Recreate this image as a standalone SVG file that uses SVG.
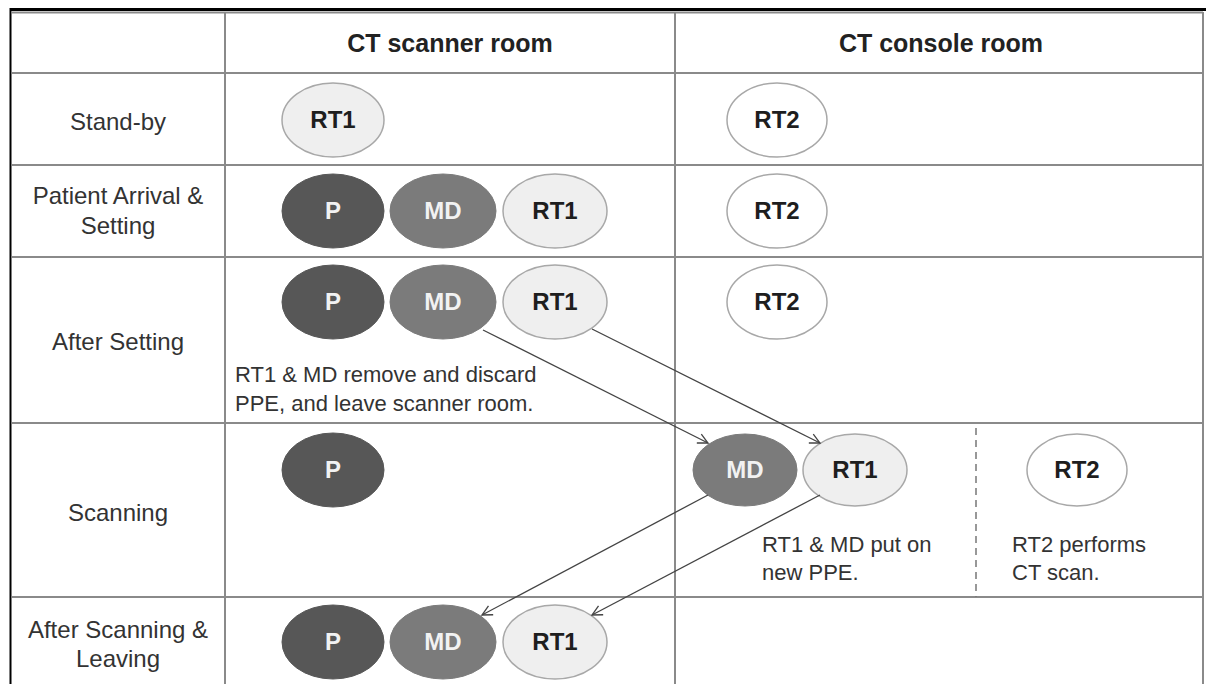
<svg xmlns="http://www.w3.org/2000/svg" width="1206" height="684" viewBox="0 0 1206 684">
<defs>
<style>
.grid{stroke:#8a8a8a;stroke-width:2;fill:none}
.lbl{font-family:"Liberation Sans",Arial,sans-serif;font-size:24px;fill:#333;text-anchor:middle}
.hdr{font-family:"Liberation Sans",Arial,sans-serif;font-size:25px;font-weight:bold;fill:#222;text-anchor:middle}
.note{font-family:"Liberation Sans",Arial,sans-serif;font-size:22px;fill:#333}
.nt{font-family:"Liberation Sans",Arial,sans-serif;font-size:24px;font-weight:bold;text-anchor:middle}
.p ellipse{fill:#575757;stroke:#575757}
.p text{fill:#f2f2f2}
.md ellipse{fill:#7b7b7b;stroke:#7b7b7b}
.md text{fill:#f2f2f2}
.rt1 ellipse{fill:#efefef;stroke:#a8a8a8;stroke-width:1.5}
.rt1 text{fill:#1e1e1e}
.rt2 ellipse{fill:#ffffff;stroke:#a8a8a8;stroke-width:1.5}
.rt2 text{fill:#1e1e1e}
.conn{stroke:#444;stroke-width:1.3;fill:none;marker-end:url(#ah)}
</style>
<marker id="ah" viewBox="0 0 12 12" refX="11" refY="6" markerWidth="12" markerHeight="12" markerUnits="userSpaceOnUse" orient="auto">
<path d="M1,1 L11,6 L1,11" fill="none" stroke="#444" stroke-width="1.3"/>
</marker>
</defs>
<rect width="1206" height="684" fill="#ffffff"/>
<g id="table">
<line x1="10" y1="9.5" x2="1206" y2="9.5" stroke="#000" stroke-width="3"/>
<line x1="10.5" y1="8" x2="10.5" y2="684" stroke="#000" stroke-width="2"/>
<line class="grid" x1="12" y1="12.5" x2="1203" y2="12.5"/>
<line class="grid" x1="1203" y1="12" x2="1203" y2="684"/>
<line class="grid" x1="12" y1="73" x2="1203" y2="73"/>
<line class="grid" x1="12" y1="165" x2="1203" y2="165"/>
<line class="grid" x1="12" y1="257" x2="1203" y2="257"/>
<line class="grid" x1="12" y1="423" x2="1203" y2="423"/>
<line class="grid" x1="12" y1="597" x2="1203" y2="597"/>
<line class="grid" x1="225" y1="12" x2="225" y2="684"/>
<line class="grid" x1="675" y1="12" x2="675" y2="684"/>
<line x1="976" y1="428" x2="976" y2="597" stroke="#777" stroke-width="1.5" stroke-dasharray="7,5"/>
</g>
<g id="headers">
<text class="hdr" x="450" y="52">CT scanner room</text>
<text class="hdr" x="941" y="52">CT console room</text>
</g>
<g id="row-labels">
<text class="lbl" x="118" y="130">Stand-by</text>
<text class="lbl" x="118" y="204">Patient Arrival &amp;</text>
<text class="lbl" x="118" y="234">Setting</text>
<text class="lbl" x="118" y="350">After Setting</text>
<text class="lbl" x="118" y="521">Scanning</text>
<text class="lbl" x="118" y="638">After Scanning &amp;</text>
<text class="lbl" x="118" y="667">Leaving</text>
</g>
<g id="standby-rt1" class="rt1"><ellipse cx="333" cy="120" rx="51" ry="37"/><text class="nt" x="333" y="128">RT1</text></g>
<g id="standby-rt2" class="rt2"><ellipse cx="777" cy="120" rx="50" ry="37"/><text class="nt" x="777" y="128">RT2</text></g>
<g id="arrival-p" class="p"><ellipse cx="333" cy="211" rx="51" ry="37"/><text class="nt" x="333" y="219">P</text></g>
<g id="arrival-md" class="md"><ellipse cx="443" cy="211" rx="53" ry="37"/><text class="nt" x="443" y="219">MD</text></g>
<g id="arrival-rt1" class="rt1"><ellipse cx="555" cy="211" rx="52" ry="37"/><text class="nt" x="555" y="219">RT1</text></g>
<g id="arrival-rt2" class="rt2"><ellipse cx="777" cy="211" rx="50" ry="37"/><text class="nt" x="777" y="219">RT2</text></g>
<g id="setting-p" class="p"><ellipse cx="333" cy="302" rx="51" ry="37"/><text class="nt" x="333" y="310">P</text></g>
<g id="setting-md" class="md"><ellipse cx="443" cy="302" rx="53" ry="37"/><text class="nt" x="443" y="310">MD</text></g>
<g id="setting-rt1" class="rt1"><ellipse cx="555" cy="302" rx="52" ry="37"/><text class="nt" x="555" y="310">RT1</text></g>
<g id="setting-rt2" class="rt2"><ellipse cx="777" cy="302" rx="50" ry="37"/><text class="nt" x="777" y="310">RT2</text></g>
<g id="setting-note"><text class="note" x="235" y="382">RT1 &amp; MD remove and discard</text><text class="note" x="235" y="411">PPE, and leave scanner room.</text></g>
<g id="scan-p" class="p"><ellipse cx="333" cy="470" rx="51" ry="37"/><text class="nt" x="333" y="478">P</text></g>
<g id="scan-md" class="md"><ellipse cx="745" cy="470" rx="52" ry="36"/><text class="nt" x="745" y="478">MD</text></g>
<g id="scan-rt1" class="rt1"><ellipse cx="855" cy="470" rx="52" ry="36"/><text class="nt" x="855" y="478">RT1</text></g>
<g id="scan-rt2" class="rt2"><ellipse cx="1077" cy="470" rx="50" ry="36"/><text class="nt" x="1077" y="478">RT2</text></g>
<g id="scan-note1"><text class="note" x="762" y="552">RT1 &amp; MD put on</text><text class="note" x="762" y="580">new PPE.</text></g>
<g id="scan-note2"><text class="note" x="1012" y="552">RT2 performs</text><text class="note" x="1012" y="580">CT scan.</text></g>
<g id="leave-p" class="p"><ellipse cx="333" cy="642" rx="51" ry="37"/><text class="nt" x="333" y="650">P</text></g>
<g id="leave-md" class="md"><ellipse cx="443" cy="642" rx="53" ry="37"/><text class="nt" x="443" y="650">MD</text></g>
<g id="leave-rt1" class="rt1"><ellipse cx="555" cy="642" rx="52" ry="37"/><text class="nt" x="555" y="650">RT1</text></g>
<g id="connectors">
<line class="conn" x1="483" y1="330" x2="708" y2="443"/>
<line class="conn" x1="592" y1="329" x2="820" y2="443"/>
<line class="conn" x1="708" y1="495" x2="482" y2="615"/>
<line class="conn" x1="820" y1="495" x2="592" y2="615"/>
</g>
</svg>
